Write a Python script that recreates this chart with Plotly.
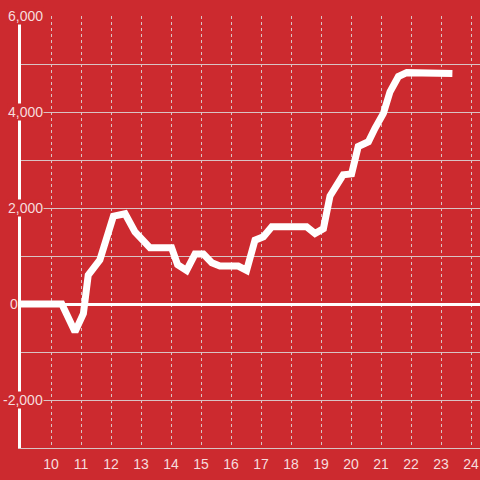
import plotly.graph_objects as go

BG_RED = "#CC2A2F"
GRID = "#D9C3C4"
LABEL = "#F6DCDD"
LINE_WHITE = "#FFFFFF"

# hour of day vs running total
hours = [9.0, 10.36, 10.8, 11.08, 11.24, 11.63, 12.08, 12.47, 12.8, 13.3, 14.02,
         14.22, 14.52, 14.8, 15.08, 15.36, 15.63, 16.24, 16.52, 16.8, 17.08, 17.36,
         18.52, 18.8, 19.08, 19.3, 19.74, 20.02, 20.24, 20.58, 20.8, 21.08, 21.3,
         21.58, 21.86, 22.4, 23.38]
totals = [0, 0, -580, -200, 600, 920, 1830, 1880, 1500, 1170, 1170,
          820, 700, 1040, 1040, 860, 790, 790, 700, 1330, 1400, 1610,
          1610, 1470, 1570, 2250, 2690, 2710, 3280, 3380, 3660, 3970, 4420,
          4740, 4820, 4815, 4800]

x_ticks = list(range(10, 25))
y_label_vals = [6000, 4000, 2000, 0, -2000]
y_label_text = ["6,000", "4,000", "2,000", "0", "-2,000"]

fig = go.Figure()
fig.add_trace(go.Scatter(
    x=hours, y=totals, mode="lines",
    line=dict(color=LINE_WHITE, width=7),
    hoverinfo="skip",
))

annotations = []
for v, t in zip(y_label_vals, y_label_text):
    if v == 0:
        # "0" sits left of the axis line, paper ref so it is not dropped
        annotations.append(dict(x=-0.029, y=v, xref="paper", yref="y", text=t,
                                showarrow=False, xanchor="left", yanchor="middle",
                                font=dict(size=14, color=LABEL)))
    else:
        # label sits on top of the axis line, background hides it
        annotations.append(dict(x=9.75, y=v, xref="x", yref="y", text=t,
                                showarrow=False, xanchor="right", yanchor="middle",
                                bgcolor=BG_RED, borderpad=0,
                                font=dict(size=14, color=LABEL)))

fig.update_layout(
    width=480, height=480,
    paper_bgcolor=BG_RED, plot_bgcolor=BG_RED,
    font=dict(family="Liberation Sans, Arial, sans-serif", size=14, color=LABEL),
    margin=dict(l=21, r=0, t=16, b=32),
    showlegend=False,
    annotations=annotations,
    xaxis=dict(
        range=[9, 24.3], tickvals=x_ticks,
        showgrid=True, gridcolor=GRID, gridwidth=1, griddash="dot",
        showline=True, linecolor=GRID, linewidth=1,
        ticks="outside", ticklen=3, tickcolor="rgba(0,0,0,0)",
        zeroline=False, tickfont=dict(size=14, color=LABEL),
    ),
    yaxis=dict(
        range=[-3000, 6000], dtick=1000, showticklabels=False,
        showgrid=True, gridcolor=GRID, gridwidth=1,
        showline=True, linecolor=LINE_WHITE, linewidth=3,
        zeroline=True, zerolinecolor=LINE_WHITE, zerolinewidth=3,
    ),
)

fig.write_html("out.html", config={"displayModeBar": False},
               post_script="document.body.style.margin = '0';")
